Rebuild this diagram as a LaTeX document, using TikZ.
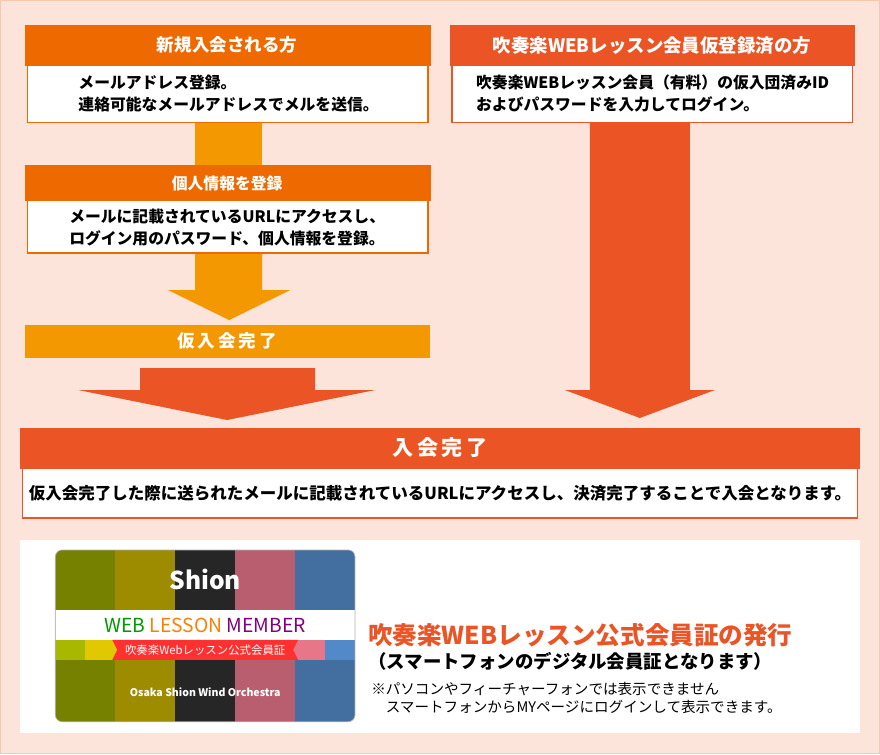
\documentclass[tikz,border=0pt]{standalone}
\usepackage{fontspec}
\setmainfont{Noto Sans CJK JP}
\usepackage{tikz}
\definecolor{bgpeach}{HTML}{FCE4DA}
\definecolor{bgline}{HTML}{F7C7B0}
\definecolor{ordark}{HTML}{EE6A00}
\definecolor{orlight}{HTML}{F39800}
\definecolor{orred}{HTML}{EB5525}
\definecolor{cgreen}{HTML}{A8B800}
\definecolor{cyellow}{HTML}{E2C800}
\definecolor{corange}{HTML}{EC9A00}
\definecolor{cpink}{HTML}{E77689}
\definecolor{cblue}{HTML}{5289C8}
\begin{document}
\begin{tikzpicture}[x=0.02cm,y=-0.02cm,
  head/.style={draw=#1,fill=#1,text=white,font=\bfseries\fontsize{9.5}{11}\selectfont},
  body/.style={draw=#1,thick,fill=white,align=left,font=\bfseries\fontsize{8.5}{12}\selectfont},
  arr/.style={fill=#1,draw=none}]
\fill[bgpeach,draw=bgline] (0,0) rectangle (880,754);
% left column
\fill[arr=orlight] (195,122) rectangle (262,165);
\fill[arr=orlight] (195,253) -- (262,253) -- (262,290) -- (290,290) -- (229,320) -- (168,290) -- (195,290) -- cycle;
\draw[head=ordark] (25,25) rectangle (430,65);
\node[text=white,font=\bfseries\fontsize{10}{11}\selectfont] (newhead) at (227,45) {新規入会される方};
\draw[body=ordark] (27,65) rectangle (428,122);
\node[anchor=west,font=\bfseries\fontsize{9}{12.5}\selectfont,align=left] (newbody) at (72,93) {メールアドレス登録。\\連絡可能なメールアドレスでメルを送信。};
\draw[head=ordark] (25,165) rectangle (430,200);
\node[text=white,font=\bfseries\fontsize{9}{11}\selectfont] (infohead) at (227,183) {個人情報を登録};
\draw[body=ordark] (27,200) rectangle (428,253);
\node[font=\bfseries\fontsize{9}{12.5}\selectfont,align=left] (infobody) at (227,227) {メールに記載されているURLにアクセスし、\\ログイン用のパスワード、個人情報を登録。};
\fill[orlight] (25,325) rectangle (430,358);
\node[text=white,font=\bfseries\fontsize{10}{11}\selectfont] (karidone) at (227,341) {仮\,入\,会\,完\,了};
\fill[arr=orred] (140,368) -- (315,368) -- (315,390) -- (375,390) -- (227,420) -- (78,390) -- (140,390) -- cycle;
% right column
\fill[arr=orred] (590,122) -- (690,122) -- (690,390) -- (715,390) -- (640,418) -- (565,390) -- (590,390) -- cycle;
\draw[head=orred] (450,25) rectangle (855,65);
\node[text=white,font=\bfseries\fontsize{10.5}{11}\selectfont] (prehead) at (652,45) {吹奏楽WEBレッスン会員仮登録済の方};
\draw[body=orred] (452,65) rectangle (853,122);
\node[anchor=west,font=\bfseries\fontsize{9}{12.5}\selectfont,align=left] (prebody) at (470,93) {吹奏楽WEBレッスン会員（有料）の仮入団済みID\\およびパスワードを入力してログイン。};
% join
\draw[head=orred] (20,428) rectangle (860,468);
\node[text=white,font=\bfseries\fontsize{12}{13}\selectfont] (donehead) at (440,448) {入\,会\,完\,了};
\draw[body=orred] (22,468) rectangle (858,518);
\node[font=\bfseries\fontsize{9.4}{12}\selectfont] (donebody) at (440,493) {仮入会完了した際に送られたメールに記載されているURLにアクセスし、決済完了することで入会となります。};
% card panel
\fill[white] (20,540) rectangle (860,733);
\begin{scope}
\clip[rounded corners=4] (55,550) rectangle (355,722);
\fill[cgreen!70!black] (55,550) rectangle (115,722);
\fill[cyellow!70!black] (115,550) rectangle (175,722);
\fill[black!85] (175,550) rectangle (235,722);
\fill[cpink!80!black] (235,550) rectangle (295,722);
\fill[cblue!80!black] (295,550) rectangle (355,722);
\fill[cgreen] (55,640) rectangle (85,660);
\fill[cyellow] (85,640) rectangle (175,660);
\fill[cpink] (270,640) rectangle (325,660);
\fill[cblue] (325,640) rectangle (355,660);
\fill[white] (55,610) rectangle (355,640);
\end{scope}
\fill[red!75!pink] (112,640) -- (298,640) -- (293,650) -- (298,660) -- (112,660) -- (117,650) -- cycle;
\node[text=white,font=\bfseries\fontsize{14}{14}\selectfont] (logo) at (205,580) {Shion};
\node[font=\fontsize{11}{12}\selectfont] (webmember) at (205,626) {\textcolor{green!60!black}{WEB} \textcolor{orange}{LESSON} \textcolor{violet}{MEMBER}};
\node[text=white,font=\fontsize{6.5}{8}\selectfont] (ribbon) at (205,650) {吹奏楽Webレッスン公式会員証};
\node[text=white,font=\bfseries\fontsize{6}{7}\selectfont] (orch) at (205,692) {Osaka Shion Wind Orchestra};
\draw[black!30] [rounded corners=4] (55,550) rectangle (355,722);
\node[anchor=west,text=orred,font=\bfseries\fontsize{14}{16}\selectfont] (issue) at (362,635) {吹奏楽WEBレッスン公式会員証の発行};
\node[anchor=west,font=\bfseries\fontsize{10.5}{12}\selectfont] (phone) at (362,662) {（スマートフォンのデジタル会員証となります）};
\node[anchor=north west,align=left,font=\fontsize{8.3}{10.5}\selectfont] (note) at (365,676) {※パソコンやフィーチャーフォンでは表示できません\\\hspace*{1em}スマートフォンからMYページにログインして表示できます。};
\end{tikzpicture}
\end{document}
